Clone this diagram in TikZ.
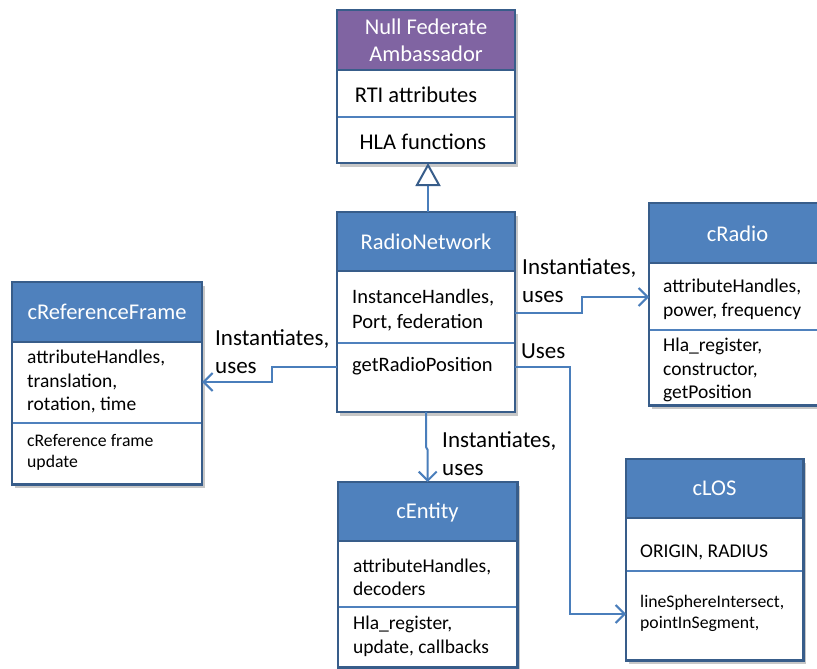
\documentclass[tikz,border=0pt]{standalone}
\usepackage{fontspec}
\setmainfont{Carlito}
\usetikzlibrary{arrows.meta,calc,shadows}
\definecolor{hblue}{HTML}{4F81BD}
\definecolor{hpurple}{HTML}{8064A2}
\definecolor{bdark}{HTML}{385D8A}
\definecolor{conn}{HTML}{4A7EBB}
\tikzset{
  classbox/.style={rectangle, fill=white, inner sep=0, draw=none,
    drop shadow={shadow xshift=3pt, shadow yshift=-4pt, fill=black, opacity=0.22}},
  border/.style={draw=bdark, line width=2.4pt},
  divider/.style={draw=hblue, line width=1.5pt},
  hdr/.style={text=white, align=center, inner sep=0, font=\fontsize{22.5}{27}\selectfont},
  bodybig/.style={inner sep=0, align=left, font=\fontsize{22.5}{27}\selectfont},
  bodymid/.style={inner sep=0, align=left, font=\fontsize{20.5}{25}\selectfont},
  body/.style={inner sep=0, align=left, font=\fontsize{19.5}{23.5}\selectfont},
  bodysmall/.style={inner sep=0, align=left, font=\fontsize{17.7}{21}\selectfont},
  lbl/.style={inner sep=0, align=left, anchor=west, font=\fontsize{23}{28}\selectfont},
  conline/.style={draw=conn, line width=2pt},
  usearrow/.style={conline, -{Straight Barb[length=9pt, width=18pt, line width=2pt]}},
  inherit/.style={conline, -{Triangle[open, length=23pt, width=25pt, line width=2pt, color=bdark, fill=white]}}
}
\begin{document}
\begin{tikzpicture}[x=1pt, y=-1pt]
\clip (0,0) rectangle (817,669);
\fill[white] (0,0) rectangle (817,669);
\useasboundingbox (0,0) rectangle (817,669);

% helper coordinates
\coordinate (y297) at (0,297);
\coordinate (y313) at (0,313);
\coordinate (y367) at (0,367);
\coordinate (y382) at (0,382);
\coordinate (y447) at (0,447);
\coordinate (y450) at (0,450);
\coordinate (y614) at (0,614);

% ---------- Null Federate Ambassador ----------
\node[classbox, minimum width=178, minimum height=153] (nfa) at (426,86.5) {};
\fill[hpurple] (nfa.north west) rectangle ($(nfa.north east)+(0,60)$);
\draw[divider] ($(nfa.north west)+(0,107)$) -- ($(nfa.north east)+(0,107)$);
\draw[border] ($(nfa.north west)+(0,60)$) -- ($(nfa.north east)+(0,60)$);
\draw[border] (nfa.north west) rectangle (nfa.south east);
\node[hdr] (nfat) at (426,40) {Null Federate\\Ambassador};
\node[bodybig] (nfaa) at (416,95) {RTI attributes};
\node[bodybig] (nfaf) at (423,142) {HLA functions};

% ---------- RadioNetwork ----------
\node[classbox, minimum width=178, minimum height=200] (rn) at (426,312) {};
\fill[hblue] (rn.north west) rectangle ($(rn.north east)+(0,59)$);
\draw[divider] ($(rn.north west)+(0,131)$) -- ($(rn.north east)+(0,131)$);
\draw[border] ($(rn.north west)+(0,59)$) -- ($(rn.north east)+(0,59)$);
\draw[border] (rn.north west) rectangle (rn.south east);
\node[hdr] (rnt) at (426,242) {RadioNetwork};
\node[bodymid, anchor=west] (rna) at (352,310) {InstanceHandles,\\Port, federation};
\node[bodymid, anchor=west] (rnf) at (352,366) {getRadioPosition};

% ---------- cReferenceFrame ----------
\node[classbox, minimum width=190, minimum height=202] (crf) at (107,282) [anchor=north] {};
\fill[hblue] (crf.north west) rectangle ($(crf.north east)+(0,60)$);
\draw[divider] ($(crf.north west)+(0,141)$) -- ($(crf.north east)+(0,141)$);
\draw[border] ($(crf.north west)+(0,60)$) -- ($(crf.north east)+(0,60)$);
\draw[border] (crf.north west) rectangle (crf.south east);
\node[hdr] (crft) at (107,312) {cReferenceFrame};
\node[body, anchor=west] (crfa) at (27,381.5) {attributeHandles,\\translation,\\rotation, time};
\node[bodysmall, anchor=west] (crff) at (27,452.5) {cReference frame\\update};

% ---------- cRadio ----------
\node[classbox, minimum width=177, minimum height=202, anchor=north west] (cr) at (649,203) {};
\fill[hblue] (cr.north west) rectangle ($(cr.north east)+(0,60)$);
\draw[divider] ($(cr.north west)+(0,127)$) -- ($(cr.north east)+(0,127)$);
\draw[border] ($(cr.north west)+(0,60)$) -- ($(cr.north east)+(0,60)$);
\draw[border] (cr.north west) rectangle (cr.south east);
\node[hdr] (crt) at (737.5,234) {cRadio};
\node[body, anchor=west] (cra) at (663,299.5) {attributeHandles,\\power, frequency};
\node[body, anchor=west] (crf2) at (663,370) {Hla\_register,\\constructor,\\getPosition};

% ---------- cEntity ----------
\node[classbox, minimum width=179, minimum height=185, anchor=north west] (ce) at (338,482) {};
\fill[hblue] (ce.north west) rectangle ($(ce.north east)+(0,59)$);
\draw[divider] ($(ce.north west)+(0,125)$) -- ($(ce.north east)+(0,125)$);
\draw[border] ($(ce.north west)+(0,59)$) -- ($(ce.north east)+(0,59)$);
\draw[border] (ce.north west) rectangle (ce.south east);
\node[hdr] (cet) at (427.5,513) {cEntity};
\node[body, anchor=west] (cea) at (353,577.5) {attributeHandles,\\decoders};
\node[body, anchor=west] (cef) at (353,636.5) {Hla\_register,\\update, callbacks};

% ---------- cLOS ----------
\node[classbox, minimum width=177, minimum height=201, anchor=north west] (clos) at (626,459) {};
\fill[hblue] (clos.north west) rectangle ($(clos.north east)+(0,59)$);
\draw[divider] ($(clos.north west)+(0,112)$) -- ($(clos.north east)+(0,112)$);
\draw[border] ($(clos.north west)+(0,59)$) -- ($(clos.north east)+(0,59)$);
\draw[border] (clos.north west) rectangle (clos.south east);
\node[hdr] (clost) at (714.5,488) {cLOS};
\node[body, anchor=west] (closa) at (640,552) {ORIGIN, RADIUS};
\node[bodysmall, anchor=west] (closf) at (640,613) {lineSphereIntersect,\\pointInSegment,};

% ---------- connectors ----------
\coordinate (inhbot) at (428,212);
\coordinate (inhtop) at (428,163);
\draw[inherit] (inhbot) -- (inhtop);

\coordinate (bendA) at (272,367);
\coordinate (bendB) at (272,382);
\draw[usearrow] (rn.west |- y367) -- (bendA) -- (bendB) -- (crf.east |- y382);
\node[lbl] (lblA) at (215,352) {Instantiates,\\uses};

\coordinate (bendC) at (582,313);
\coordinate (bendD) at (582,297);
\draw[usearrow] (rn.east |- y313) -- (bendC) -- (bendD) -- (cr.west |- y297);
\node[lbl] (lblB) at (522,281) {Instantiates,\\uses};

\coordinate (bendE) at (570,367);
\coordinate (bendF) at (570,614);
\draw[usearrow] (rn.east |- y367) -- (bendE) -- (bendF) -- (clos.west |- y614);
\node[lbl] (lblC) at (521,351) {Uses};

\draw[usearrow] (rn.south) -- (rn.south |- y447) -- (ce.north |- y450) -- (ce.north);
\node[lbl] (lblD) at (442,454) {Instantiates,\\uses};
\end{tikzpicture}
\end{document}
